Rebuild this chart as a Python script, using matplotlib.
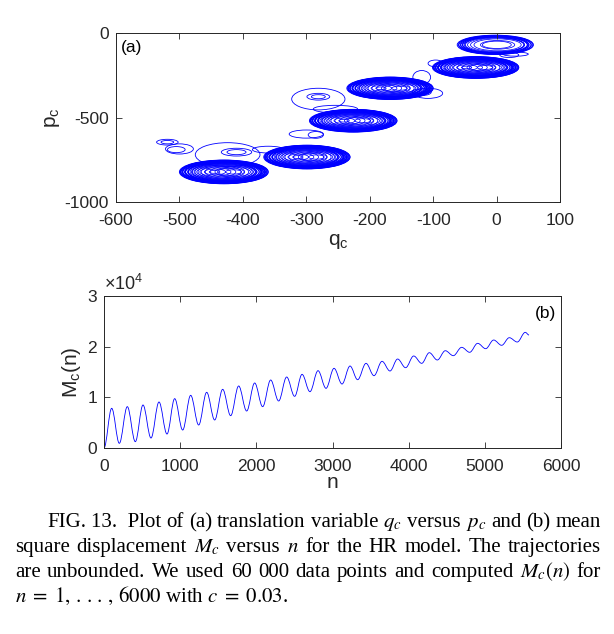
import matplotlib
matplotlib.use("Agg")
import matplotlib.pyplot as plt
from matplotlib.patches import Ellipse, PathPatch
from matplotlib.path import Path

plt.rcParams['font.family'] = ['Liberation Sans', 'DejaVu Sans']
plt.rcParams['mathtext.fontset'] = 'custom'
plt.rcParams['mathtext.rm'] = 'Liberation Sans'
plt.rcParams['mathtext.it'] = 'Liberation Sans:italic'
plt.rcParams['axes.unicode_minus'] = False

# ---------------- data: panel (a) ----------------
cluster_q = [-2, -33, -168, -226, -299, -430]
cluster_p = [-70, -204, -327, -519, -734, -822]
cluster_a = [60, 68, 68, 69, 68, 70]
cluster_b = [57, 64, 66, 67, 70, 70]
cluster_dense = [False, True, True, True, True, True]

ring_frac_dense = [1.0, 0.985, 0.97, 0.955, 0.94, 0.925, 0.91, 0.895, 0.88, 0.865,
                   0.85, 0.835, 0.82, 0.80, 0.78, 0.76, 0.74, 0.72, 0.69, 0.66,
                   0.63, 0.60, 0.57, 0.53, 0.49, 0.44, 0.40, 0.35, 0.30, 0.24,
                   0.18, 0.12]
ring_shift_dense = [0.0, 0.01, -0.01, 0.02, -0.02, 0.0, 0.03, -0.03, 0.01, -0.01,
                    0.04, -0.04, 0.02, -0.06, 0.07, -0.05, 0.09, -0.08, 0.11, -0.10,
                    0.12, -0.13, 0.15, -0.14, 0.18, -0.17, 0.20, -0.19, 0.16, -0.2,
                    0.22, -0.21]
ring_frac_sparse = [1.0, 0.975, 0.95, 0.925, 0.9, 0.875, 0.85, 0.82, 0.79, 0.75,
                    0.70, 0.62, 0.45, 0.38]
ring_shift_sparse = [0.0, 0.01, -0.01, 0.02, -0.02, 0.01, -0.01, 0.03, -0.03, 0.02,
                     0.05, 0.06, 0.06, 0.04]

loop_q = [-519, -519, -500, -505, -410, -410, -424, -360, -281, -281, -281,
          -254, -285, -300, -108, -118, -96, -118, 20, 30]
loop_p = [-646, -646, -686, -690, -705, -705, -720, -690, -377, -377, -391,
          -450, -603, -598, -357, -350, -180, -262, -130, -125]
loop_a = [17, 10, 22, 14, 24, 15, 51, 25, 18, 11, 42,
          35, 12, 27, 23, 15, 12, 14, 15, 20]
loop_b = [17, 10, 30, 18, 23, 15, 71, 20, 20, 12, 64,
          22, 20, 24, 30, 20, 20, 40, 15, 12]

# ---------------- data: panel (b) ----------------
n_ext = [0, 101, 201, 306, 411, 512, 617, 722, 827, 928, 1033, 1138, 1243, 1348,
         1453, 1558, 1663, 1768, 1873, 1978, 2083, 2188, 2293, 2398, 2503, 2600,
         2704, 2810, 2915, 3020, 3125, 3230, 3330, 3440, 3545, 3650, 3755, 3855,
         3960, 4066, 4171, 4271, 4376, 4481, 4586, 4696, 4801, 4906, 5011, 5116,
         5221, 5321, 5426, 5531, 5580]
m_ext = [0, 7835, 925, 8160, 1250, 8490, 1970, 9080, 2760, 9740, 3550, 10400, 4540,
         10990, 5530, 11580, 6380, 12240, 7300, 12830, 8160, 13420, 9280, 14010,
         10200, 14540, 11110, 15260, 11780, 15730, 12630, 16180, 13480, 16710,
         14270, 17110, 15200, 17560, 15850, 18160, 16710, 18810, 17370, 19200,
         18220, 19870, 18890, 20660, 19600, 21310, 20270, 21770, 20920, 22830, 22300]

a_xticks = [-600, -500, -400, -300, -200, -100, 0, 100]
a_yticks = [-1000, -500, 0]
b_xticks = [0, 1000, 2000, 3000, 4000, 5000, 6000]
b_yticks = [0, 10000, 20000, 30000]
b_yticklabels = ['0', '1', '2', '3']

caption_lines = [
    r"FIG. 13.  Plot of (a) translation variable $q_c$ versus $p_c$ and (b) mean",
    r"square displacement $M_c$ versus $n$ for the HR model. The trajectories",
    r"are unbounded. We used 60 000 data points and computed $M_c(n)$ for",
    r"$n\;=\;1,\,.\,.\,.\,,\,6000$ with $c\;=\;0.03$.",
]

W, H = 614, 634
fig = plt.figure(figsize=(W / 100, H / 100), dpi=100)
fig.patch.set_facecolor('white')
dark = '#262626'
blue = '#0000ff'


def style(ax):
    for s in ax.spines.values():
        s.set_color(dark)
        s.set_linewidth(0.7)
    ax.tick_params(direction='in', length=4, width=0.6, top=True, right=True,
                   colors=dark, labelsize=12.5)
    ax.tick_params(axis='x', pad=8)
    ax.tick_params(axis='y', pad=5)


# ---------- panel (a) ----------
axa = fig.add_axes([116 / W, 1 - 202 / H, 444 / W, 169 / H])
for q, p, a, b, dense in zip(cluster_q, cluster_p, cluster_a, cluster_b, cluster_dense):
    fr = ring_frac_dense if dense else ring_frac_sparse
    sh = ring_shift_dense if dense else ring_shift_sparse
    for f, s in zip(fr, sh):
        axa.add_patch(Ellipse((q + s * a, p), 2 * a * f, 2 * b * f, fill=False,
                              edgecolor=blue, linewidth=0.7 if f > 0.75 else 0.55))
for q, p, a, b in zip(loop_q, loop_p, loop_a, loop_b):
    axa.add_patch(Ellipse((q, p), 2 * a, 2 * b, fill=False, edgecolor=blue,
                          linewidth=0.6))
axa.set_xlim(-600, 100)
axa.set_ylim(-1000, 0)
axa.set_xticks(a_xticks)
axa.set_yticks(a_yticks)
style(axa)
axa.set_xlabel(r'$\mathrm{q_c}$', fontsize=15, color=dark, labelpad=3)
axa.set_ylabel(r'$\mathrm{p_c}$', fontsize=15, color=dark, labelpad=2)
axa.text(0.012, 0.915, '(a)', transform=axa.transAxes, fontsize=12.5,
         va='center', ha='left', color='black')

# ---------- panel (b) ----------
axb = fig.add_axes([104 / W, 1 - 448 / H, 457 / W, 152 / H])
verts = [(n_ext[0], m_ext[0])]
codes = [Path.MOVETO]
for i in range(1, len(n_ext)):
    x0, y0 = n_ext[i - 1], m_ext[i - 1]
    x1, y1 = n_ext[i], m_ext[i]
    dx = x1 - x0
    verts += [(x0 + 0.36 * dx, y0), (x1 - 0.36 * dx, y1), (x1, y1)]
    codes += [Path.CURVE4, Path.CURVE4, Path.CURVE4]
axb.add_patch(PathPatch(Path(verts, codes), fill=False, edgecolor=blue,
                        linewidth=0.6))
axb.set_xlim(0, 6000)
axb.set_ylim(0, 30000)
axb.set_xticks(b_xticks)
axb.set_yticks(b_yticks)
axb.set_yticklabels(b_yticklabels)
style(axb)
axb.set_xlabel(r'n', fontsize=15, color=dark, labelpad=-1)
axb.set_ylabel(r'$\mathrm{M_c(n)}$', fontsize=15, color=dark, labelpad=3)
axb.text(0.0, 1.012, r'$\times\mathrm{10^{4}}$', transform=axb.transAxes,
         fontsize=13, va='bottom', ha='left', color=dark)
axb.text(0.99, 0.885, '(b)', transform=axb.transAxes, fontsize=12.5,
         va='center', ha='right', color='black')

# ---------- caption (justified) ----------
renderer = fig.canvas.get_renderer()
cap_font = dict(family=['Liberation Serif', 'DejaVu Serif'], fontsize=15,
                color='black', math_fontfamily='stix')
baselines = [527, 552, 577, 602]
starts = [47, 15, 15, 15]
right_edge = 601
for k, (line, y) in enumerate(zip(caption_lines, baselines)):
    if k == len(caption_lines) - 1:
        fig.text(starts[k] / W, 1 - y / H, line, va='baseline', ha='left', **cap_font)
        continue
    words = line.replace('13.  ', '13.\u0000').split(' ')
    words = [w.replace('\u0000', '  ') for w in words]
    texts = [fig.text(0, 1 - y / H, w, va='baseline', ha='left', **cap_font) for w in words]
    widths = [t.get_window_extent(renderer).width for t in texts]
    gap = (right_edge - starts[k] - sum(widths)) / (len(words) - 1)
    x = starts[k]
    for t, w in zip(texts, widths):
        t.set_x(x / W)
        x += w + gap

fig.savefig('out.png', dpi=100, facecolor='white')
